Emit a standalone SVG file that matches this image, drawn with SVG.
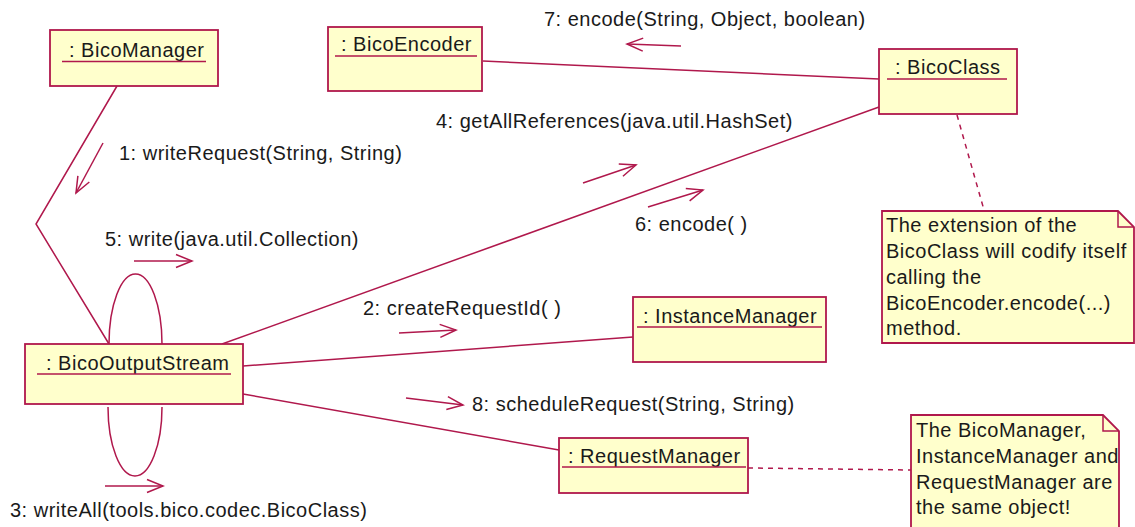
<svg xmlns="http://www.w3.org/2000/svg" width="1135" height="527" viewBox="0 0 1135 527">
  <style>
    .box { fill: #FFFFCC; stroke: #B0184C; stroke-width: 1.8; }
    .ul { stroke: #B0184C; stroke-width: 1.6; }
    .link { fill: none; stroke: #B0184C; stroke-width: 1.5; }
    .dash { fill: none; stroke: #B0184C; stroke-width: 1.5; stroke-dasharray: 5 5; }
    .msg { fill: none; stroke: #B0184C; stroke-width: 1.5; marker-end: url(#open); }
    text { font-family: "Liberation Sans", Arial, sans-serif; font-size: 20px; letter-spacing: 0.5px; fill: #1A1A1A; }
  </style>
  <defs>
    <marker id="open" markerUnits="userSpaceOnUse" markerWidth="20" markerHeight="20" viewBox="-18 -10 20 20" refX="0" refY="0" orient="auto">
      <path d="M-16,-6.5 L0,0 L-16,6.5" fill="none" stroke="#B0184C" stroke-width="1.5"/>
    </marker>
  </defs>
  <rect width="1135" height="527" fill="#FFFFFF"/>

  <!-- links between objects -->
  <g id="connectors">
    <polyline class="link" points="117,86 36,224 109,344"/>
    <path class="link" d="M109,344 A26.5,70 0 0 1 162,344"/>
    <path class="link" d="M108,407 A27,69 0 0 0 162,407"/>
    <line class="link" x1="222" y1="344" x2="879" y2="107"/>
    <line class="link" x1="483" y1="61" x2="879" y2="79"/>
    <line class="link" x1="243" y1="366" x2="633" y2="337"/>
    <line class="link" x1="243" y1="394" x2="559" y2="450"/>
    <line class="dash" x1="957" y1="115" x2="984" y2="210"/>
    <line class="dash" x1="748" y1="468" x2="911" y2="470"/>

    <!-- message arrows -->
    <line class="msg" x1="103" y1="143" x2="76" y2="193"/>
    <line class="msg" x1="681" y1="46" x2="627" y2="44"/>
    <line class="msg" x1="583" y1="183" x2="636" y2="165"/>
    <line class="msg" x1="648" y1="207" x2="703" y2="190"/>
    <line class="msg" x1="134" y1="261" x2="192" y2="261"/>
    <line class="msg" x1="105" y1="486" x2="163" y2="486"/>
    <line class="msg" x1="399" y1="333" x2="456" y2="330"/>
    <line class="msg" x1="406" y1="398" x2="463" y2="405"/>

    <!-- message labels -->
    <text x="119" y="160">1: writeRequest(String, String)</text>
    <text x="544" y="26">7: encode(String, Object, boolean)</text>
    <text x="436" y="128">4: getAllReferences(java.util.HashSet)</text>
    <text x="105" y="246">5: write(java.util.Collection)</text>
    <text x="363" y="315">2: createRequestId( )</text>
    <text x="635" y="231">6: encode( )</text>
    <text x="472" y="411">8: scheduleRequest(String, String)</text>
    <text x="10" y="517">3: writeAll(tools.bico.codec.BicoClass)</text>
  </g>

  <g id="bicoManager">
    <rect class="box" x="50" y="30" width="168" height="56"/>
    <text x="69" y="56.5">: BicoManager</text>
    <line class="ul" x1="62" y1="61.5" x2="206" y2="61.5"/>
  </g>

  <g id="bicoEncoder">
    <rect class="box" x="328" y="27" width="154" height="64"/>
    <text x="341" y="51">: BicoEncoder</text>
    <line class="ul" x1="335" y1="56" x2="477" y2="56"/>
  </g>

  <g id="bicoClass">
    <rect class="box" x="879" y="49" width="138" height="65"/>
    <text x="895" y="74">: BicoClass</text>
    <line class="ul" x1="887" y1="79" x2="1007" y2="79"/>
  </g>

  <g id="bicoOutputStream">
    <rect class="box" x="25" y="344" width="218" height="60"/>
    <text x="46" y="369.5">: BicoOutputStream</text>
    <line class="ul" x1="37" y1="374" x2="231" y2="374"/>
  </g>

  <g id="instanceManager">
    <rect class="box" x="633" y="297" width="193" height="65"/>
    <text x="643" y="322.5">: InstanceManager</text>
    <line class="ul" x1="637" y1="327" x2="822" y2="327"/>
  </g>

  <g id="requestManager">
    <rect class="box" x="559" y="438" width="189" height="55"/>
    <text x="568" y="462.5">: RequestManager</text>
    <line class="ul" x1="562" y1="467" x2="746" y2="467"/>
  </g>

  <g id="noteEncoding">
    <path class="box" d="M882,211 H1118 L1134,227 V343 H882 Z"/>
    <path class="link" d="M1118,211 V227 H1134"/>
    <text x="886" y="232">The extension of the</text>
    <text x="886" y="258">BicoClass will codify itself</text>
    <text x="886" y="284">calling the</text>
    <text x="886" y="310">BicoEncoder.encode(...)</text>
    <text x="886" y="335">method.</text>
  </g>

  <g id="noteSameObject">
    <path class="box" d="M911,415 H1103 L1119,431 V535 H911 Z"/>
    <path class="link" d="M1103,415 V431 H1119"/>
    <text x="916" y="437">The BicoManager,</text>
    <text x="916" y="463">InstanceManager and</text>
    <text x="916" y="489">RequestManager are</text>
    <text x="916" y="514">the same object!</text>
  </g>
</svg>
